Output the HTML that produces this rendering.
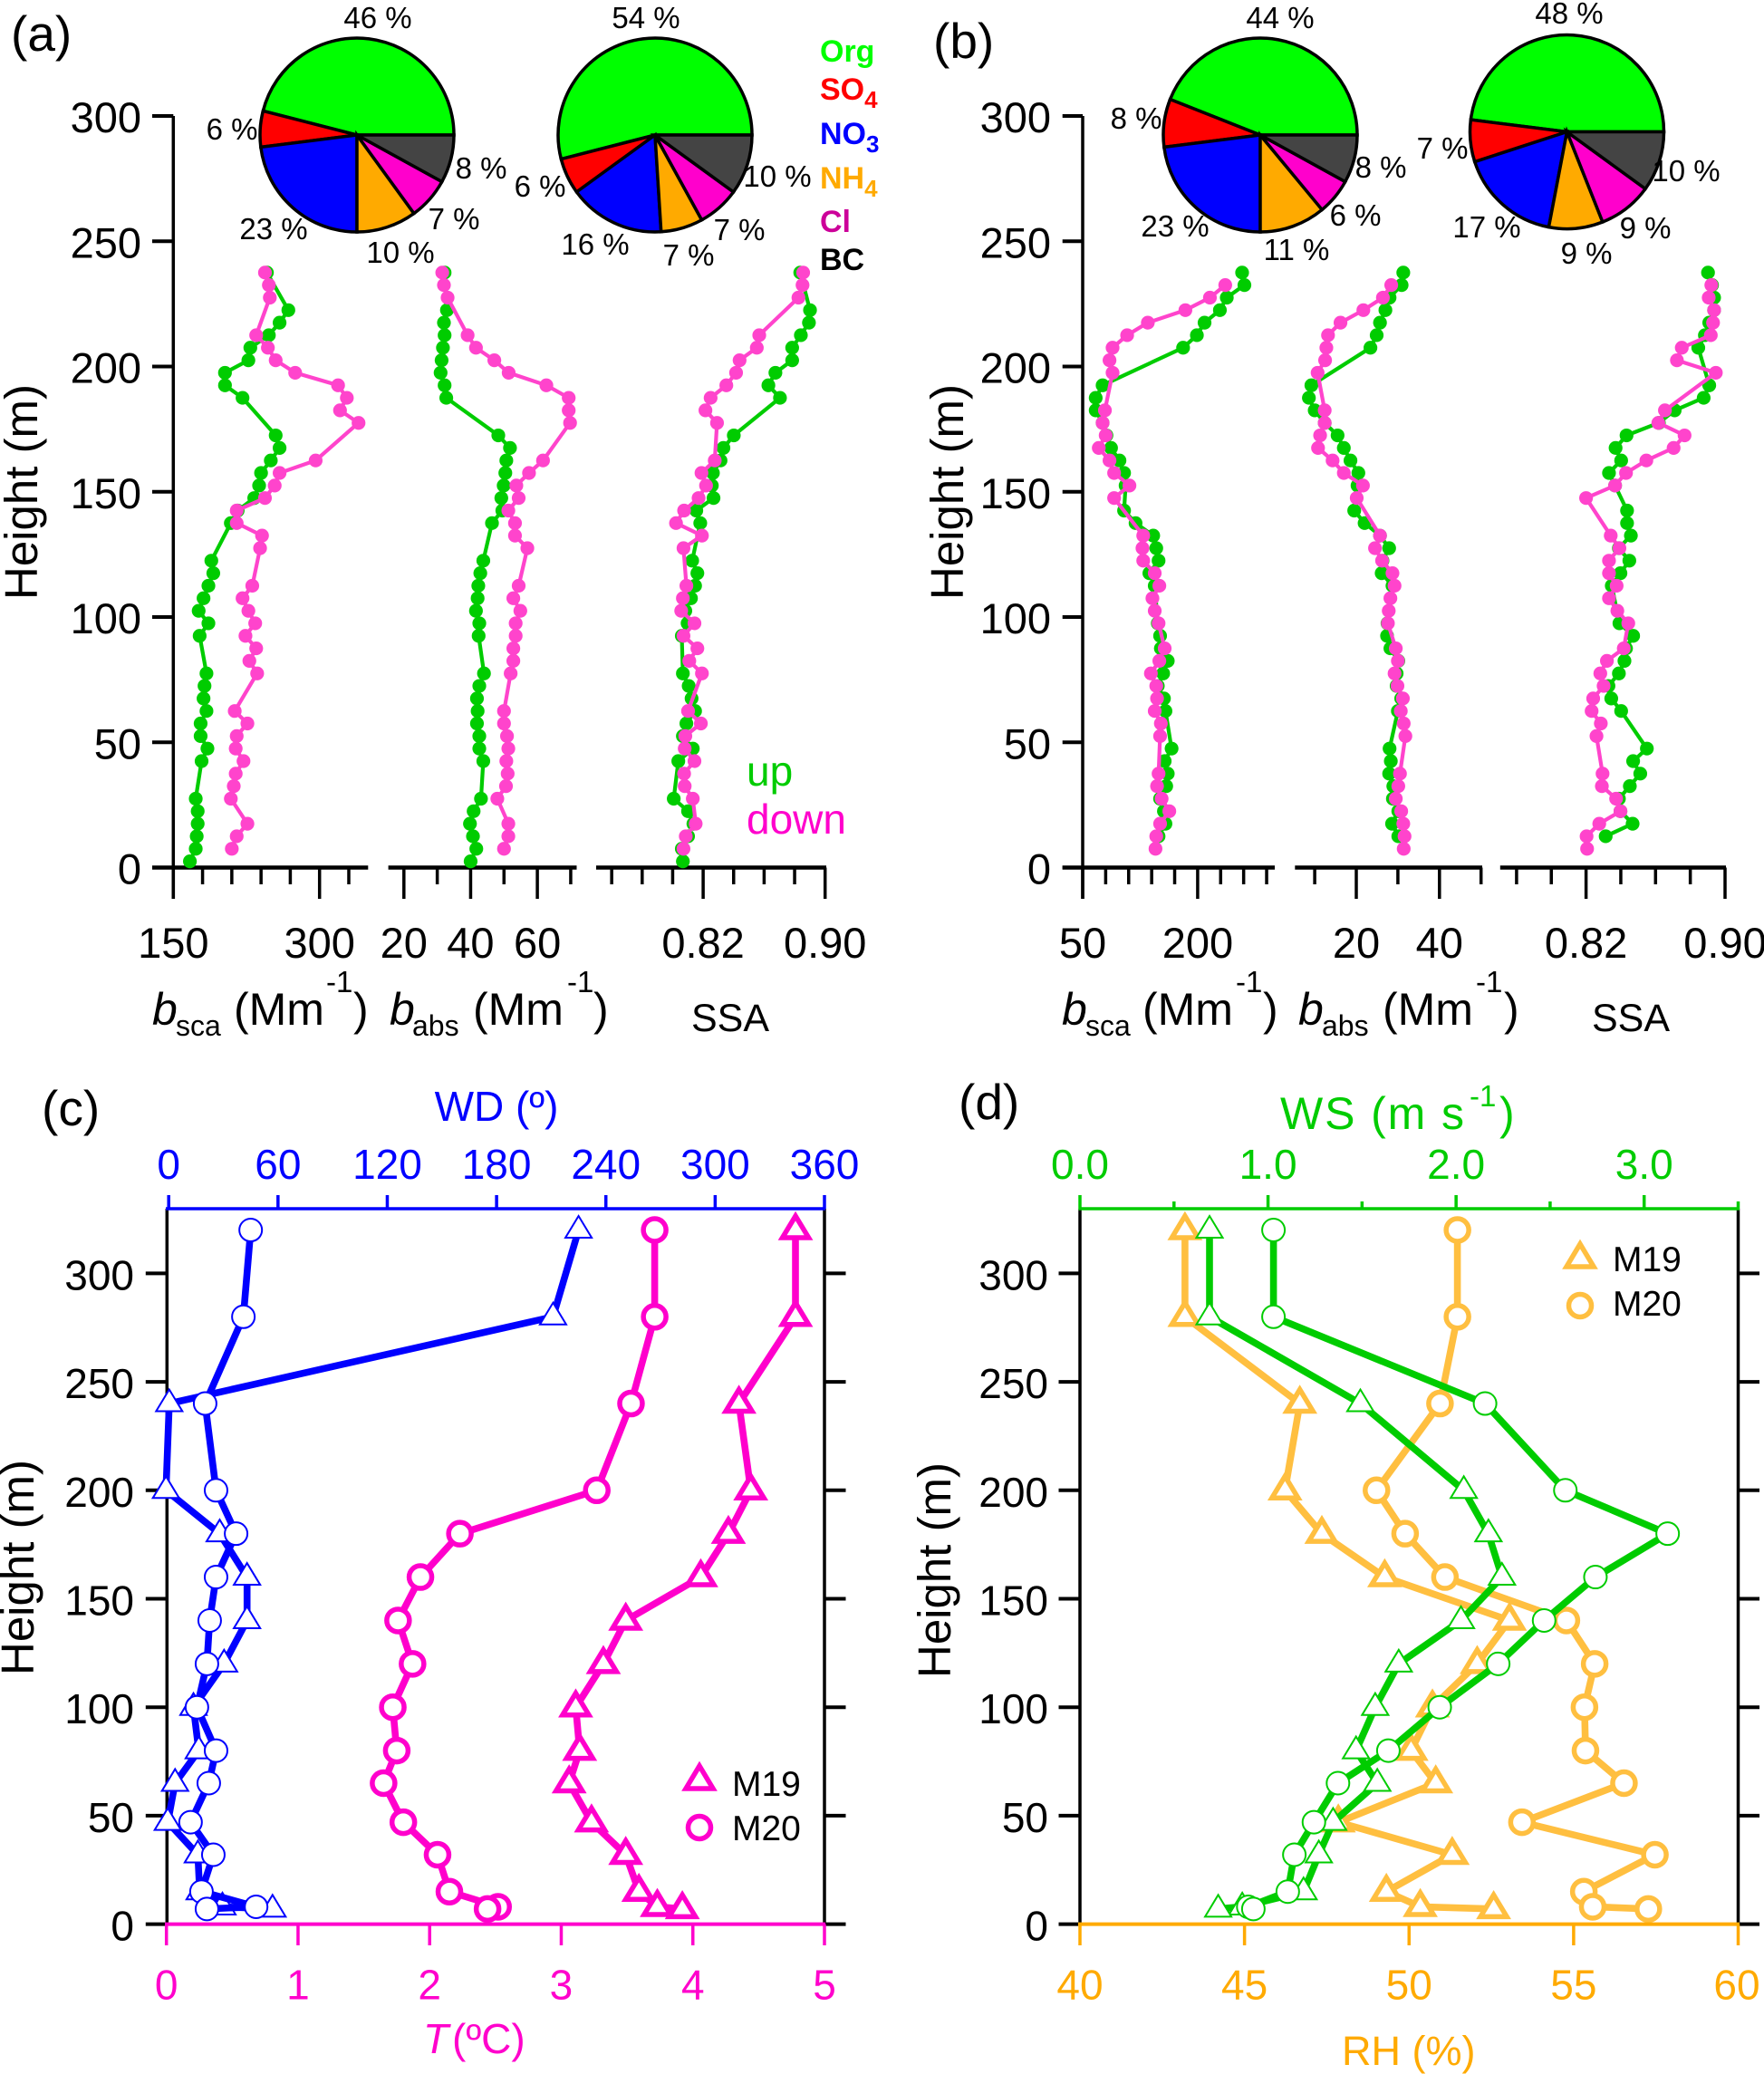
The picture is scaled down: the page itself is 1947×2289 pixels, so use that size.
<!DOCTYPE html>
<html lang="en">
<head>
<meta charset="utf-8">
<title>Vertical profiles of aerosol optical properties and meteorology</title>
<style>
html,body{margin:0;padding:0;background:#fff}
svg{display:block;font-family:"Liberation Sans",sans-serif}
.pl{font-size:33px;text-anchor:middle;fill:#000}
.lg{font-size:34px;font-weight:bold}
.lgs{font-size:26px;font-weight:bold}
.t{font-size:50px;fill:#000}
.pan{font-size:55px;fill:#000}
.yl{font-size:51px;fill:#000;text-anchor:middle}
</style>
</head>
<body>
<svg id="fig" xmlns="http://www.w3.org/2000/svg" width="1947" height="2289" viewBox="0 0 1947 2289">
<rect width="1947" height="2289" fill="#fff"/>
<g id="layer"></g>

<text class="pan" x="12" y="56">(a)</text>
<text class="pan" x="1030" y="64">(b)</text>
<text class="pan" x="46" y="1242">(c)</text>
<text class="pan" x="1058" y="1235">(d)</text>

<text class="yl" transform="translate(41,543) rotate(-90)">Height (m)</text>
<text class="yl" transform="translate(1063,543) rotate(-90)">Height (m)</text>
<text class="yl" transform="translate(37,1730) rotate(-90)">Height (m)</text>
<text class="yl" transform="translate(1049,1733) rotate(-90)">Height (m)</text>

<g>
<text class="pl" x="417" y="31">46 %</text>
<text class="pl" x="256" y="154">6 %</text>
<text class="pl" x="531" y="197">8 %</text>
<text class="pl" x="501" y="253">7 %</text>
<text class="pl" x="442" y="290">10 %</text>
<text class="pl" x="302" y="264">23 %</text>
<text class="pl" x="713" y="31">54 %</text>
<text class="pl" x="596" y="217">6 %</text>
<text class="pl" x="858" y="206">10 %</text>
<text class="pl" x="816" y="265">7 %</text>
<text class="pl" x="760" y="293">7 %</text>
<text class="pl" x="657" y="281">16 %</text>
</g>
<g>
<text class="pl" x="1413" y="31">44 %</text>
<text class="pl" x="1254" y="142">8 %</text>
<text class="pl" x="1524" y="196">8 %</text>
<text class="pl" x="1496" y="249">6 %</text>
<text class="pl" x="1431" y="287">11 %</text>
<text class="pl" x="1297" y="261">23 %</text>
<text class="pl" x="1732" y="26">48 %</text>
<text class="pl" x="1592" y="175">7 %</text>
<text class="pl" x="1861" y="200">10 %</text>
<text class="pl" x="1816" y="263">9 %</text>
<text class="pl" x="1751" y="291">9 %</text>
<text class="pl" x="1641" y="262">17 %</text>
</g>

<g>
<text class="lg" x="905" y="68" fill="#00ff00">Org</text>
<text class="lg" x="905" y="110" fill="#ff0000">SO<tspan class="lgs" dy="9">4</tspan></text>
<text class="lg" x="905" y="159" fill="#0000ff">NO<tspan class="lgs" dy="9">3</tspan></text>
<text class="lg" x="905" y="208" fill="#ffaa00">NH<tspan class="lgs" dy="9">4</tspan></text>
<text class="lg" x="905" y="256" fill="#cc0099">Cl</text>
<text class="lg" x="905" y="298" fill="#000">BC</text>
</g>

<text x="824" y="867" font-size="46" fill="#00cc00">up</text>
<text x="824" y="920" font-size="46" fill="#ff00cc">down</text>

<g>
<text class="t" x="168" y="1131" font-style="italic">b</text>
<text x="194" y="1143" font-size="32">sca</text>
<text class="t" x="258" y="1131">(Mm</text>
<text x="360" y="1095" font-size="33">-1</text>
<text class="t" x="390" y="1131">)</text>
<text class="t" x="430" y="1131" font-style="italic">b</text>
<text x="455" y="1143" font-size="32">abs</text>
<text class="t" x="522" y="1131">(Mm</text>
<text x="626" y="1095" font-size="33">-1</text>
<text class="t" x="655" y="1131">)</text>
<text x="763" y="1138" font-size="43">SSA</text>
</g>
<g>
<text class="t" x="1172" y="1131" font-style="italic">b</text>
<text x="1198" y="1143" font-size="32">sca</text>
<text class="t" x="1261" y="1131">(Mm</text>
<text x="1364" y="1095" font-size="33">-1</text>
<text class="t" x="1394" y="1131">)</text>
<text class="t" x="1433" y="1131" font-style="italic">b</text>
<text x="1459" y="1143" font-size="32">abs</text>
<text class="t" x="1526" y="1131">(Mm</text>
<text x="1629" y="1095" font-size="33">-1</text>
<text class="t" x="1660" y="1131">)</text>
<text x="1757" y="1138" font-size="43">SSA</text>
</g>

<text x="548" y="1237" font-size="46" fill="#0000ff" text-anchor="middle">WD (º)</text>
<text x="467" y="2266" font-size="46" fill="#ff00cc" font-style="italic">T</text>
<text x="499" y="2266" font-size="46" fill="#ff00cc">(ºC)</text>
<text x="1413" y="1246" font-size="50" fill="#00cc00" textLength="203">WS (m s</text>
<text x="1622" y="1221" font-size="33" fill="#00cc00">-1</text>
<text x="1655" y="1246" font-size="50" fill="#00cc00">)</text>
<text x="1481" y="2279" font-size="45" fill="#ffaa00">RH (%)</text>

<g>
<polygon points="757,1974 772,1949 787,1974" fill="#fff" stroke="#ff00cc" stroke-width="5.5"/>
<text x="808" y="1982" font-size="39">M19</text>
<circle cx="772" cy="2017" r="12.5" fill="#fff" stroke="#ff00cc" stroke-width="5.5"/>
<text x="808" y="2031" font-size="39">M20</text>
</g>
<g>
<polygon points="1729,1398 1744,1373 1759,1398" fill="#fff" stroke="#ffbf40" stroke-width="5.5"/>
<text x="1780" y="1403" font-size="39">M19</text>
<circle cx="1744" cy="1441" r="12.5" fill="#fff" stroke="#ffbf40" stroke-width="5.5"/>
<text x="1780" y="1452" font-size="39">M20</text>
</g>
</svg>

<script>
/* ---------- profile data: panels (a) and (b) ---------- */
const aUpHeights = [237.5,222.5,217.5,212.5,207.5,202.5,197.5,192.5,187.5,172.5,167.5,162.5,157.5,152.5,147.5,142.5,137.5,122.5,117.5,112.5,107.5,102.5,97.5,92.5,77.5,72.5,67.5,62.5,57.5,52.5,47.5,42.5,27.5,22.5,17.5,12.5,7.5,2.5];
const aDownHeights = [237.5,232.5,227.5,212.5,207.5,202.5,197.5,192.5,187.5,182.5,177.5,162.5,157.5,152.5,147.5,142.5,137.5,132.5,127.5,112.5,107.5,102.5,97.5,92.5,87.5,82.5,77.5,62.5,57.5,52.5,47.5,42.5,37.5,32.5,27.5,17.5,12.5,7.5];
const bUpHeights = [237.5,232.5,227.5,222.5,217.5,212.5,207.5,192.5,187.5,182.5,177.5,172.5,167.5,162.5,157.5,152.5,142.5,137.5,132.5,127.5,122.5,117.5,112.5,97.5,92.5,87.5,82.5,77.5,72.5,67.5,62.5,47.5,42.5,37.5,32.5,27.5,22.5,17.5,12.5];
const bDownHeights = [232.5,227.5,222.5,217.5,212.5,207.5,202.5,197.5,182.5,177.5,172.5,167.5,162.5,157.5,152.5,147.5,132.5,127.5,122.5,117.5,112.5,107.5,102.5,97.5,87.5,82.5,77.5,72.5,67.5,62.5,57.5,52.5,37.5,32.5,27.5,22.5,17.5,12.5,7.5];

const aBscaUp = [246,268,259,248,229,227,203,203,221,255,259,250,240,238,233,216,209,189,191,186,181,176,186,177,184,182,181,184,178,178,185,179,173,175,175,174,173,167];
const aBscaDown = [244,248,249,235,247,255,275,319,328,321,340,296,259,254,244,215,215,241,239,231,221,227,234,224,235,228,236,213,226,215,214,222,214,212,209,226,215,210];
const aBabsUp = [32.2,32.9,32.0,32.2,31.7,31.3,31.0,32.2,32.7,48.3,51.8,50.7,50.4,49.9,49.2,49.5,46.4,43.8,42.9,42.3,42.1,41.6,42.6,42.4,44.0,42.6,41.9,42.1,41.9,42.6,42.6,43.8,43.1,40.9,39.8,40.7,41.7,40.0];
const aBabsDown = [31.5,32.0,33.1,39.1,41.6,47.1,51.4,62.7,69.4,69.4,69.8,61.7,57.5,53.7,54.4,51.3,53.3,53.3,57.0,54.4,52.8,54.9,53.5,53.5,52.8,52.8,52.0,50.0,50.0,50.9,51.3,50.7,51.1,50.6,48.0,51.3,51.3,50.0];
const aSsaUp = [.8837,.8901,.8894,.8841,.8784,.8784,.8674,.8628,.8704,.8401,.8333,.8314,.8264,.8257,.8268,.8155,.8181,.8128,.8162,.8147,.8120,.8083,.8098,.8060,.8067,.8105,.8124,.8147,.8090,.8067,.8132,.8037,.8007,.8101,.8136,.8101,.8060,.8067];
const aSsaDown = [.8856,.8852,.8825,.8568,.8552,.8439,.8416,.8352,.8249,.8215,.8291,.8276,.8189,.8219,.8170,.8075,.8022,.8192,.8071,.8090,.8067,.8056,.8143,.8071,.8162,.8109,.8192,.8101,.8185,.8083,.8079,.8143,.8075,.8079,.8132,.8151,.8086,.8071];

const bBscaUp = [258,261,238,229,209,199,181,76,67,67,76,81,87,98,104,106,104,119,142,146,149,137,144,148,151,152,161,155,148,156,158,166,157,161,159,151,156,158,149];
const bBscaDown = [236,216,184,135,108,89,85,89,79,76,80,71,85,91,111,91,129,128,129,144,150,141,144,149,157,150,139,146,147,144,152,151,149,147,153,163,151,146,145];
const bBabsUp = [31.3,30.9,28.0,27.0,25.7,24.9,23.4,9.2,8.6,10.0,12.4,15.5,17.0,18.6,20.5,20.3,19.5,22.0,25.7,27.9,26.3,26.1,28.7,27.5,27.4,28.2,30.1,29.7,29.7,30.8,30.0,28.0,28.3,27.9,28.9,28.8,30.1,28.6,30.1];
const bBabsDown = [28.4,26.4,21.7,16.2,13.2,12.8,12.5,10.7,12.4,12.4,11.3,10.8,14.3,17.0,21.6,20.1,25.7,24.5,26.2,28.7,29.2,28.2,27.8,27.6,29.5,30.0,29.2,29.9,31.2,30.7,31.4,31.8,30.5,30.1,29.5,30.8,31.3,31.6,31.4];
const bSsaUp = [.8902,.8925,.8937,.8937,.8909,.8884,.8846,.8909,.8877,.8710,.8619,.8433,.8370,.8402,.8332,.8367,.8436,.8436,.8458,.8389,.8449,.8398,.8348,.8392,.8471,.8430,.8421,.8389,.8329,.8345,.8402,.8550,.8471,.8512,.8452,.8389,.8398,.8468,.8313];
const bSsaDown = [.8921,.8906,.8937,.8931,.8918,.8751,.8723,.8947,.8654,.8616,.8767,.8704,.8547,.8430,.8367,.8200,.8342,.8392,.8332,.8332,.8376,.8332,.8380,.8443,.8417,.8320,.8282,.8301,.8241,.8232,.8285,.8260,.8295,.8291,.8373,.8398,.8276,.8203,.8206];

/* ---------- tick labels ---------- */
const heightTicks = [0,50,100,150,200,250,300];
const aBscaMajor = [150,300];
const aBscaMinor = [180,210,240,270,330];
const aBabsMajor = [20,40,60];
const aBabsMinor = [30,50,70];
const aSsaMajor = [0.82,0.90];
const aSsaMinor = [0.76,0.78,0.80,0.84,0.86,0.88];
const bBscaMajor = [50,200];
const bBscaMinor = [80,110,140,170,230,260,290];
const bBabsMajor = [20,40];
const bBabsMinor = [10,30,50];
const bSsaMajor = [0.82,0.90];
const bSsaMinor = [0.78,0.80,0.84,0.86,0.88];
const wdTicks = [0,60,120,180,240,300,360];
const tTicks = [0,1,2,3,4,5];
const wsMajor = [0.0,1.0,2.0,3.0];
const wsMinor = [0.5,1.5,2.5,3.5];
const rhTicks = [40,45,50,55,60];

/* ---------- pie data: Org, SO4, NO3, NH4, Cl, BC (percent) ---------- */
const pieSpecies = ['org','so4','no3','nh4','cl','bc'];
const pie1Values = [46,6,23,10,7,8];
const pie2Values = [54,6,16,7,7,10];
const pie3Values = [44,8,23,11,6,8];
const pie4Values = [48,7,17,9,9,10];

/* ---------- meteorology data: panels (c) and (d) ---------- */
const metHeights = [320,280,240,200,180,160,140,120,100,80,65,47,32,15,8,7];
const m19T = [4.78,4.78,4.35,4.44,4.27,4.06,3.49,3.32,3.11,3.14,3.06,3.23,3.49,3.59,3.73,3.92];
const m20T = [3.71,3.71,3.53,3.27,2.23,1.93,1.76,1.87,1.72,1.75,1.65,1.80,2.06,2.15,2.52,2.44];
const m19WD = [225,211,0.3,-1.5,28,43,43,30.4,13.6,16.5,3.5,-0.5,16,17,29.5,57];
const m20WD = [45,41,20,26,37,26,22.5,21,15.5,26,22,12,24.5,18,48,21];
const m19WS = [.689,.689,1.491,2.041,2.172,2.244,2.026,1.695,1.570,1.468,1.581,1.346,1.270,1.189,.863,.735];
const m20WS = [1.029,1.029,2.154,2.581,3.125,2.741,2.468,2.224,1.913,1.640,1.372,1.244,1.140,1.105,.895,.922];
const m19RH = [43.19,43.19,46.68,46.23,47.35,49.26,53.05,52.07,50.71,50.06,50.81,47.85,51.31,49.31,50.34,52.57];
const m20RH = [51.47,51.47,50.94,49.01,49.88,51.09,54.78,55.64,55.33,55.36,56.53,53.43,57.47,55.31,55.58,57.27];

/* ---------- helpers ---------- */
const SVGNS = 'http://www.w3.org/2000/svg';
const layer = document.getElementById('layer');
function mk(tag, parent, props) {
  const el = document.createElementNS(SVGNS, tag);
  for (const k in props) el.setAttribute(k, props[k]);
  (parent || layer).appendChild(el);
  return el;
}
function scale(d0, d1, r0, r1) {
  return function (v) { return r0 + (v - d0) * (r1 - r0) / (d1 - d0); };
}
const yAB = scale(0, 300, 957.5, 128);
const yCD = scale(0, 300, 2123.6, 1405.4);

function tickLine(group, x1, y1, x2, y2, color, width, name) {
  const el = mk('line', group, {x1: x1, y1: y1, x2: x2, y2: y2, stroke: color, 'stroke-width': width});
  
  
  return el;
}
function tickText(group, x, y, str, anchor, size, color, name) {
  const el = mk('text', group, {x: x, y: y, 'text-anchor': anchor, 'font-size': size, fill: color});
  el.textContent = str;
  
  
  return el;
}

function drawHeightAxis(prefix, x, yFn, labelX, tickLeft, size) {
  const g = mk('g');
  
  
  heightTicks.forEach(function (h) {
    tickLine(g, tickLeft, yFn(h), x, yFn(h), '#000', 4, 'y-tick');
    tickText(g, labelX, yFn(h) + 18, String(h), 'end', size, '#000', 'y-tick-label');
  });
}

function drawBottomAxis(name, sx, left, right, major, minor, fmt) {
  const g = mk('g');
  
  
  tickLine(g, left, 957.5, right, 957.5, '#000', 4.5, 'x-axis-line');
  major.forEach(function (v) {
    tickLine(g, sx(v), 957.5, sx(v), 992, '#000', 3.5, 'x-major-tick');
    tickText(g, sx(v), 1057, fmt(v), 'middle', 47, '#000', 'x-tick-label');
  });
  minor.forEach(function (v) {
    tickLine(g, sx(v), 957.5, sx(v), 976, '#000', 3.5, 'x-minor-tick');
  });
}

function drawProfile(name, sx, heights, values, color) {
  const g = mk('g');
  
  
  const pts = values.map(function (v, i) { return sx(v).toFixed(1) + ',' + yAB(heights[i]).toFixed(1); });
  const line = mk('polyline', g, {points: pts.join(' '), fill: 'none', stroke: color, 'stroke-width': 4.2, 'stroke-linejoin': 'round'});
  
  
  values.forEach(function (v, i) {
    const dot = mk('circle', g, {cx: sx(v), cy: yAB(heights[i]), r: 7.6, fill: color});
    
    
  });
}

const pieColors = ['#00ff00','#ff0000','#0000ff','#ffaa00','#ff00cc','#444444'];
function drawPie(name, cx, cy, r, values) {
  const g = mk('g');
  
  
  const total = values.reduce(function (a, b) { return a + b; }, 0);
  let start = 0;
  values.forEach(function (v, i) {
    const end = start + v / total * 2 * Math.PI;
    const x0 = cx + r * Math.cos(start), y0 = cy - r * Math.sin(start);
    const x1 = cx + r * Math.cos(end), y1 = cy - r * Math.sin(end);
    const big = end - start > Math.PI ? 1 : 0;
    const d = 'M' + cx + ' ' + cy + 'L' + x0 + ' ' + y0 + 'A' + r + ' ' + r + ' 0 ' + big + ' 0 ' + x1 + ' ' + y1 + 'Z';
    const s = mk('path', g, {d: d, fill: pieColors[i], stroke: '#000', 'stroke-width': 3.5, 'stroke-linejoin': 'miter'});
    
    
    start = end;
  });
}

function drawFrame(prefix, left, right, top, bottom, yFn, labelX) {
  const g = mk('g');
  
  
  tickLine(g, left, top, left, bottom, '#000', 3.5, 'left-axis-line');
  tickLine(g, right, top, right, bottom, '#000', 3.5, 'right-axis-line');
  heightTicks.forEach(function (h) {
    tickLine(g, left - 23.5, yFn(h), left, yFn(h), '#000', 4, 'left-tick');
    tickLine(g, right, yFn(h), right + 23.5, yFn(h), '#000', 4, 'right-tick');
    tickText(g, labelX, yFn(h) + 18, String(h), 'end', 46, '#000', 'y-tick-label');
  });
}

function drawMetSeries(name, sx, values, color, marker, lineColor, markerStroke) {
  const g = mk('g');
  
  
  const pts = values.map(function (v, i) { return sx(v).toFixed(1) + ',' + yCD(metHeights[i]).toFixed(1); });
  const line = mk('polyline', g, {points: pts.join(' '), fill: 'none', stroke: lineColor, 'stroke-width': 7.6, 'stroke-linejoin': 'round'});
  
  
  values.forEach(function (v, i) {
    const px = sx(v), py = yCD(metHeights[i]);
    let m;
    if (marker === 'tri') {
      m = mk('polygon', g, {points: (px - 14.5) + ',' + (py + 8.5) + ' ' + px + ',' + (py - 15.5) + ' ' + (px + 14.5) + ',' + (py + 8.5), fill: '#fff', stroke: color, 'stroke-width': markerStroke});
    } else {
      m = mk('circle', g, {cx: px, cy: py, r: 12.5, fill: '#fff', stroke: color, 'stroke-width': markerStroke});
    }
    
    
  });
}

/* ---------- panel (a) ---------- */
const xABsca = scale(150, 300, 191.3, 352.7);
const xABabs = scale(20, 60, 445.8, 593.1);
const xASsa = scale(0.82, 0.90, 776.1, 910.7);
drawHeightAxis('panel-a', 191.3, yAB, 156, 168, 47);
(function () {
  const ax = tickLine(layer, 191.3, 128, 191.3, 992, '#000', 3.5, 'panel-a-y-axis-line');
  ax.setAttribute('stroke-linecap', 'butt');
})();
drawBottomAxis('a-bsca', xABsca, 168, 406.3, aBscaMajor, aBscaMinor, String);
drawBottomAxis('a-babs', xABabs, 428.6, 636.5, aBabsMajor, aBabsMinor, String);
drawBottomAxis('a-ssa', xASsa, 658, 912, aSsaMajor, aSsaMinor, function (v) { return v.toFixed(2); });
drawProfile('a-bsca-up', xABsca, aUpHeights, aBscaUp, '#00cc00');
drawProfile('a-bsca-down', xABsca, aDownHeights, aBscaDown, '#ff44cc');
drawProfile('a-babs-up', xABabs, aUpHeights, aBabsUp, '#00cc00');
drawProfile('a-babs-down', xABabs, aDownHeights, aBabsDown, '#ff44cc');
drawProfile('a-ssa-up', xASsa, aUpHeights, aSsaUp, '#00cc00');
drawProfile('a-ssa-down', xASsa, aDownHeights, aSsaDown, '#ff44cc');
drawPie('pie-1', 394, 149, 107, pie1Values);
drawPie('pie-2', 723, 149, 107, pie2Values);

/* ---------- panel (b) ---------- */
const xBBsca = scale(50, 200, 1195, 1321.9);
const xBBabs = scale(20, 40, 1497, 1588.8);
const xBSsa = scale(0.82, 0.90, 1750.6, 1904);
drawHeightAxis('panel-b', 1195, yAB, 1160, 1172.7, 47);
(function () {
  const ax = tickLine(layer, 1195, 128, 1195, 992, '#000', 3.5, 'panel-b-y-axis-line');
  ax.setAttribute('stroke-linecap', 'butt');
})();
drawBottomAxis('b-bsca', xBBsca, 1172.7, 1407, bBscaMajor, bBscaMinor, String);
drawBottomAxis('b-babs', xBBabs, 1429.3, 1636, bBabsMajor, bBabsMinor, String);
drawBottomAxis('b-ssa', xBSsa, 1655.8, 1905, bSsaMajor, bSsaMinor, function (v) { return v.toFixed(2); });
drawProfile('b-bsca-up', xBBsca, bUpHeights, bBscaUp, '#00cc00');
drawProfile('b-bsca-down', xBBsca, bDownHeights, bBscaDown, '#ff44cc');
drawProfile('b-babs-up', xBBabs, bUpHeights, bBabsUp, '#00cc00');
drawProfile('b-babs-down', xBBabs, bDownHeights, bBabsDown, '#ff44cc');
drawProfile('b-ssa-up', xBSsa, bUpHeights, bSsaUp, '#00cc00');
drawProfile('b-ssa-down', xBSsa, bDownHeights, bSsaDown, '#ff44cc');
drawPie('pie-3', 1391, 149, 107, pie3Values);
drawPie('pie-4', 1729.5, 145.5, 107, pie4Values);

/* ---------- panel (c) ---------- */
const xWD = scale(0, 360, 186.2, 910);
const xT = scale(0, 5, 183.7, 910);
drawFrame('panel-c', 184.3, 910, 1334, 2123.6, yCD, 148);
drawMetSeries('wd-m19', xWD, m19WD, '#0000ff', 'tri', '#0000ff', 2);
drawMetSeries('wd-m20', xWD, m20WD, '#0000ff', 'circle', '#0000ff', 2);
drawMetSeries('t-m19', xT, m19T, '#ff00cc', 'tri', '#ff00cc', 5.5);
drawMetSeries('t-m20', xT, m20T, '#ff00cc', 'circle', '#ff00cc', 5.5);
(function () {
  const top = mk('g');
  
  
  tickLine(top, 183, 1334, 911, 1334, '#0000ff', 3.5, 'wd-axis-line');
  wdTicks.forEach(function (v) {
    tickLine(top, xWD(v), 1319, xWD(v), 1334, '#0000ff', 3.5, 'wd-tick');
    tickText(top, xWD(v), 1301, String(v), 'middle', 46, '#0000ff', 'wd-tick-label');
  });
  const bot = mk('g');
  
  
  tickLine(bot, 182, 2123.6, 911, 2123.6, '#ff00cc', 4, 't-axis-line');
  tTicks.forEach(function (v) {
    tickLine(bot, xT(v), 2123.6, xT(v), 2147, '#ff00cc', 3.5, 't-tick');
    tickText(bot, xT(v), 2206.6, String(v), 'middle', 46, '#ff00cc', 't-tick-label');
  });
})();

/* ---------- panel (d) ---------- */
const xWS = scale(0, 3.5, 1192, 1918.5);
const xRH = scale(40, 60, 1192, 1918.5);
drawFrame('panel-d', 1192, 1918.5, 1334, 2123.6, yCD, 1157);
drawMetSeries('rh-m19', xRH, m19RH, '#ffbf40', 'tri', '#ffbf40', 5.5);
drawMetSeries('rh-m20', xRH, m20RH, '#ffbf40', 'circle', '#ffbf40', 5.5);
drawMetSeries('ws-m19', xWS, m19WS, '#00cc00', 'tri', '#00cc00', 2);
drawMetSeries('ws-m20', xWS, m20WS, '#00cc00', 'circle', '#00cc00', 2);
(function () {
  const top = mk('g');
  
  
  tickLine(top, 1190.5, 1334, 1920, 1334, '#00cc00', 3.5, 'ws-axis-line');
  wsMajor.forEach(function (v) {
    tickLine(top, xWS(v), 1319, xWS(v), 1334, '#00cc00', 3.5, 'ws-major-tick');
    tickText(top, xWS(v), 1301, v.toFixed(1), 'middle', 46, '#00cc00', 'ws-tick-label');
  });
  wsMinor.forEach(function (v) {
    tickLine(top, xWS(v), 1326, xWS(v), 1334, '#00cc00', 3.5, 'ws-minor-tick');
  });
  const bot = mk('g');
  
  
  tickLine(bot, 1190, 2123.6, 1920, 2123.6, '#ffaa00', 4, 'rh-axis-line');
  rhTicks.forEach(function (v) {
    tickLine(bot, xRH(v), 2123.6, xRH(v), 2147, '#ffaa00', 3.5, 'rh-tick');
    tickText(bot, Math.min(xRH(v), 1917), 2206.6, String(v), 'middle', 46, '#ffaa00', 'rh-tick-label');
  });
})();
</script>
</body>
</html>
